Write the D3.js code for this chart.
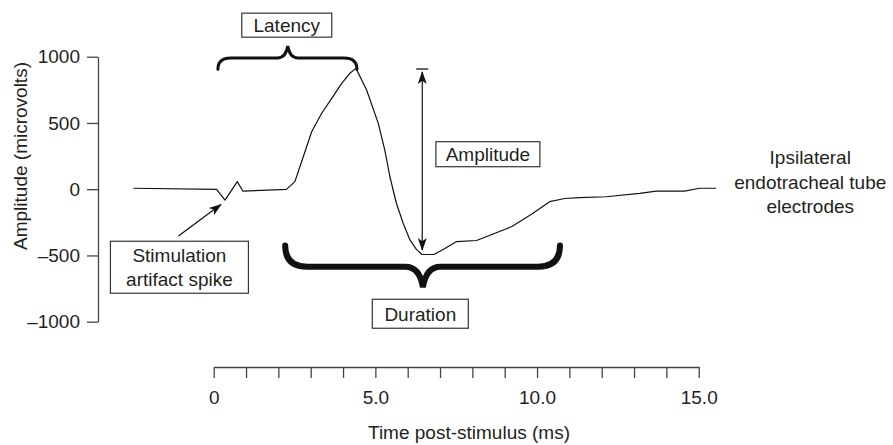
<!DOCTYPE html>
<html>
<head>
<meta charset="utf-8">
<script src="https://cdn.jsdelivr.net/npm/d3@7"></script>
<style>
  body { margin: 0; background: #fff; }
  svg text { font-family: "Liberation Sans", Arial, sans-serif; fill: #231f20; }
</style>
</head>
<body>
<div id="chart"></div>
<script>
// waveform (ms, microvolts)
const timeMs = [-2.48, 0.09, 0.35, 0.73, 0.90, 2.25, 2.51, 2.77, 3.03, 3.34, 3.65, 3.96, 4.21, 4.40,
  4.73, 5.09, 5.29, 5.45, 5.65, 5.86, 6.07, 6.27, 6.44, 6.81, 7.15, 7.51, 8.13, 9.22, 9.84,
  10.39, 10.86, 11.32, 12.14, 13.17, 13.69, 14.56, 15.03, 15.54];
const amplitudeUv = [7, -1, -82, 57, -14, -1, 57, 245, 434, 573, 686, 799, 875, 912,
  749, 497, 296, 94, -106, -257, -383, -454, -493, -493, -448, -395, -387, -282, -187,
  -94, -70, -64, -57, -31, -14, -14, 7, 7];

const yTicks = [-1000, -500, 0, 500, 1000];
const xTicks = d3.range(0, 16, 1);
const xLabelled = [0, 5, 10, 15];

const xTitle = "Time post-stimulus (ms)";
const yTitle = "Amplitude (microvolts)";
const traceLabel = ["Ipsilateral", "endotracheal tube", "electrodes"];

const width = 893, height = 445;

const svg = d3.select("#chart")
    .append("svg")
    .attr("width", width)
    .attr("height", height);

// scales
const x = d3.scaleLinear().domain([0, 15]).range([213.7, 698.7]);
const y = d3.scaleLinear().domain([-1000, 1000]).range([321.7, 56.7]);

const fmtX = d => d === 0 ? "0" : d3.format(".1f")(d);

// y axis
const yAxis = svg.append("g")
    .attr("transform", `translate(${98},0)`)
    .call(d3.axisLeft(y).tickValues(yTicks).tickSize(11).tickPadding(7).tickSizeOuter(0)
        .tickFormat(d => d < 0 ? "\u2013" + Math.abs(d) : d));
yAxis.selectAll("text").style("font-size", "19px").attr("fill", "#231f20");

// x axis
const xAxis = svg.append("g")
    .attr("transform", `translate(0,${367})`)
    .call(d3.axisBottom(x).tickValues(xTicks).tickSize(11).tickPadding(13).tickSizeOuter(0)
        .tickFormat(d => xLabelled.includes(d) ? fmtX(d) : ""));
xAxis.selectAll("text").style("font-size", "19px").attr("fill", "#231f20");

svg.selectAll(".domain, .tick line").attr("stroke", "#444").attr("stroke-width", 1.3);

// axis titles
svg.append("text")
    .attr("x", 469).attr("y", 439)
    .attr("text-anchor", "middle")
    .style("font-size", "19px")
    .text(xTitle);

svg.append("text")
    .attr("transform", `translate(${27},${156}) rotate(-90)`)
    .attr("text-anchor", "middle")
    .style("font-size", "19px")
    .text(yTitle);

// the trace
const trace = timeMs.map((t, i) => ({t: t, v: amplitudeUv[i]}));
svg.append("path")
    .datum(trace)
    .attr("fill", "none")
    .attr("stroke", "#111")
    .attr("stroke-width", 1.2)
    .attr("stroke-linejoin", "round")
    .attr("d", d3.line().x(d => x(d.t)).y(d => y(d.v)));

// label at the end of the trace
svg.append("text")
    .attr("x", x(18.45))
    .attr("text-anchor", "middle")
    .style("font-size", "19px")
    .selectAll("tspan")
    .data(traceLabel)
    .enter().append("tspan")
    .attr("x", x(18.45))
    .attr("y", (d, i) => y(190) + i * 24.7)
    .text(d => d);

// ----------------
// curly braces
// ----------------
function brace(x0, x1, xm, yEnd, yH, yTip, r) {
    return `M${x0},${yEnd}` +
        `Q${x0},${yH} ${x0 + r},${yH}` +
        `L${xm - r * 0.8},${yH}` +
        `Q${xm - r * 0.15},${yH} ${xm},${yTip}` +
        `Q${xm + r * 0.15},${yH} ${xm + r * 0.8},${yH}` +
        `L${x1 - r},${yH}` +
        `Q${x1},${yH} ${x1},${yEnd}`;
}

// latency brace
svg.append("path")
    .attr("fill", "none").attr("stroke", "#111").attr("stroke-width", 3).attr("stroke-linecap", "round")
    .attr("d", brace(x(0.13), x(4.43), x(2.29), y(905), y(990), y(1080), 13));

// duration brace
svg.append("path")
    .attr("fill", "none").attr("stroke", "#111").attr("stroke-width", 6).attr("stroke-linecap", "round")
    .attr("d", brace(x(2.21), x(10.71), x(6.47), y(-425), y(-585), y(-740), 22));

// ----------------
// boxed labels
// ----------------
function boxLabel(lines, t, v, w, h) {
    const cx = x(t), cy = y(v);
    const g = svg.append("g");
    g.append("rect")
        .attr("x", cx - w / 2).attr("y", cy - h / 2)
        .attr("width", w).attr("height", h)
        .attr("fill", "#fff").attr("stroke", "#333").attr("stroke-width", 1.2);
    g.append("text")
        .attr("text-anchor", "middle")
        .style("font-size", "19px")
        .selectAll("tspan")
        .data(lines)
        .enter().append("tspan")
        .attr("x", cx)
        .attr("y", (d, i) => cy + 6.8 + (i - (lines.length - 1) / 2) * 23.5)
        .text(d => d);
}

boxLabel(["Latency"], 2.26, 1238, 90, 24);
boxLabel(["Amplitude"], 8.48, 264, 104, 25);
boxLabel(["Duration"], 6.39, -940, 96, 29);
boxLabel(["Stimulation", "artifact spike"], -1.06, -589, 138, 52);

// ----------------
// arrows
// ----------------
function arrowHead(xt, yt, xf, yf, len, half) {
    const a = Math.atan2(yt - yf, xt - xf);
    const bx = xt - len * Math.cos(a), by = yt - len * Math.sin(a);
    const px = -Math.sin(a) * half, py = Math.cos(a) * half;
    const nx = xt - len * 0.75 * Math.cos(a), ny = yt - len * 0.75 * Math.sin(a);
    svg.append("path")
        .attr("fill", "#111")
        .attr("d", `M${xt},${yt}L${bx + px},${by + py}L${nx},${ny}L${bx - px},${by - py}Z`);
}

// amplitude arrow: peak to trough
const ax = x(6.45), aTop = y(907), aBot = y(-489);
svg.append("line")
    .attr("x1", ax - 6).attr("x2", ax + 6).attr("y1", aTop).attr("y2", aTop)
    .attr("stroke", "#111").attr("stroke-width", 1.3);
svg.append("line")
    .attr("x1", ax).attr("x2", ax).attr("y1", aTop + 3).attr("y2", aBot - 4)
    .attr("stroke", "#111").attr("stroke-width", 1.2);
arrowHead(ax, aTop + 2, ax, aBot, 13, 4.5);
arrowHead(ax, aBot - 3, ax, aTop, 13, 4.5);

// stimulation artifact arrow
svg.append("line")
    .attr("x1", x(-1.09)).attr("y1", y(-353)).attr("x2", x(0.22)).attr("y2", y(-115))
    .attr("stroke", "#111").attr("stroke-width", 1.3);
arrowHead(x(0.25), y(-111), x(-1.09), y(-353), 13, 4.5);
</script>
</body>
</html>
